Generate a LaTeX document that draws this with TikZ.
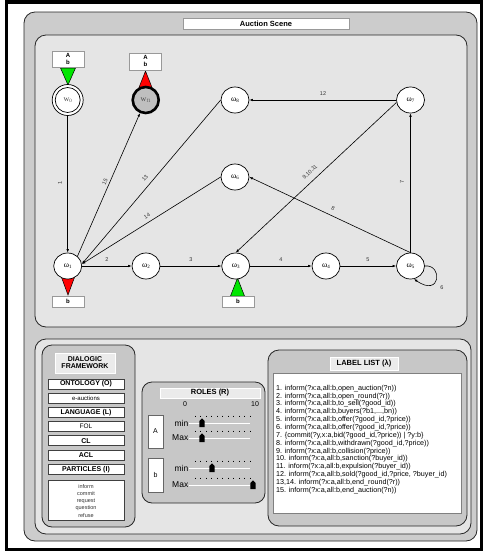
\documentclass[tikz,border=0pt]{standalone}
\usepackage{fontspec}
\setmainfont{Liberation Sans}
\newfontfamily\greekserif{Liberation Serif}
\usetikzlibrary{shapes.geometric,arrows.meta}
\newcommand\fsz[1]{\fontsize{#1}{#1}\selectfont}
\newcommand\stname[2]{#1\raisebox{-1.6pt}{\fsz{5}#2}}

\definecolor{panelgray}{gray}{0.80}
\definecolor{areagray}{gray}{0.90}
\definecolor{boxgray}{gray}{0.78}
\definecolor{titlegray}{gray}{0.92}
\definecolor{sigred}{RGB}{255,0,0}
\definecolor{siggreen}{RGB}{0,230,0}

\begin{document}
\begin{tikzpicture}[x=1pt,y=-1pt,
  panel/.style={draw=black!85, line width=0.8pt, rounded corners=11pt},
  state/.style={ellipse, draw, line width=0.7pt, fill=white, minimum width=28pt,
    minimum height=26pt, inner sep=0pt, font=\greekserif\fsz{8}},
  trans/.style={-{Latex[length=3.5pt,width=2.6pt]}, line width=0.6pt},
  elabel/.style={font=\fsz{5.5}, text=black!80, inner sep=0pt},
  tagbox/.style={draw=black!40, fill=white, line width=0.6pt},
  tagtext/.style={font=\bfseries\fsz{6}, inner sep=0pt},
  itembox/.style={draw=black!75, fill=white, line width=0.6pt, minimum width=76pt,
    minimum height=10pt, inner sep=0pt},
  titlebox/.style={fill=titlegray, draw=white, line width=0.6pt},
  signal/.style={draw=black, line width=0.5pt},
]
\useasboundingbox (0,0) rectangle (483,552);

% frame and panels
\draw[line width=3.5pt] (6.5,1.75) rectangle (481.25,549.5);
\filldraw[panel, fill=panelgray] (24,12) rectangle (477,541);
\filldraw[titlebox, draw=black!40, fill=white] (183,18) rectangle (349,29);
\node[font=\bfseries\fsz{7.5}, inner sep=0pt] (scenetitle) at (266,23.5) {Auction Scene};
\filldraw[panel, fill=areagray] (35,35) rectangle (467,327);
\filldraw[panel, fill=areagray] (35,339) rectangle (471,534);

% ---------- scene graph ----------
% role tags and signals
\filldraw[signal, fill=siggreen] (60.5,68) -- (75.5,68) -- (68,85) -- cycle;
\filldraw[tagbox] (52,51) rectangle (84,67);
\node[tagtext] (t0a) at (68,55.5) {A};
\node[tagtext] (t0b) at (68,62.5) {b};

\filldraw[signal, fill=sigred] (138,90) -- (153,90) -- (145.5,71) -- cycle;
\filldraw[tagbox] (129,53) rectangle (161,70);
\node[tagtext] (tfa) at (145.5,57.5) {A};
\node[tagtext] (tfb) at (145.5,64.5) {b};

\filldraw[signal, fill=sigred] (61,276) -- (75,276) -- (68,295) -- cycle;
\filldraw[tagbox] (52,296) rectangle (84,307);
\node[tagtext] (t1b) at (68,301.5) {b};

\filldraw[signal, fill=siggreen] (237.5,278) -- (244.5,296) -- (230.5,296) -- cycle;
\filldraw[tagbox] (222,296) rectangle (254,307);
\node[tagtext] (t3b) at (238,301.5) {b};

% states
\node[circle, draw, line width=0.7pt, fill=white, minimum size=31pt, inner sep=0pt] (w0) at (67.7,100) {};
\node[circle, draw, line width=0.7pt, minimum size=25pt, inner sep=0pt,
  font=\greekserif\fsz{8}, text=black!70] (w0in) at (67.7,100) {\stname{w}{0}};
\node[circle, draw, line width=2.6pt, fill=black!25, minimum size=26pt, inner sep=0pt,
  font=\greekserif\fsz{8}, text=black!70] (wf1) at (145.7,100) {\stname{w}{f1}};

\node[state] (w1) at (67.7,266) {\stname{ω}{1}};
\node[state] (w2) at (146,266) {\stname{ω}{2}};
\node[state] (w3) at (235.7,266) {\stname{ω}{3}};
\node[state] (w4) at (326,266) {\stname{ω}{4}};
\node[state] (w5) at (410.5,266) {\stname{ω}{5}};
\node[state] (w6) at (235,177) {\stname{ω}{6}};
\node[state] (w7) at (410.5,100) {\stname{ω}{7}};
\node[state] (w8) at (235,100) {\stname{ω}{8}};
\coordinate (hub) at (w1.8);

% transitions
\draw[trans] (w0.south) -- (w1.north);
\draw[trans] (w1.east) -- (w2.west);
\draw[trans] (w2) -- (w3);
\draw[trans] (w3) -- (w4);
\draw[trans] (w4) -- (w5);
\draw[trans] (w5.east) .. controls (443,264) and (441,298) .. (w5.-75);
\draw[trans] (w5.north) -- (w7.south);
\draw[trans] (w5.north) -- (w6.east);
\draw[trans] (w7.190) -- (w3.north);
\draw[trans] (w7.west) -- (w8.east);
\draw[trans] (w8.west) -- (hub);
\draw[trans] (w6.west) -- (hub);
\draw[trans] (w1.45) -- (wf1);

% transition labels
\node[elabel, rotate=90] (l1) at (60,183) {1};
\node[elabel] (l2) at (107,260) {2};
\node[elabel] (l3) at (191,260) {3};
\node[elabel] (l4) at (281,260) {4};
\node[elabel] (l5) at (368,260) {5};
\node[elabel] (l6) at (442,288) {6};
\node[elabel, rotate=90] (l7) at (402,182) {7};
\node[elabel, rotate=-25] (l8) at (333,208) {8};
\node[elabel, rotate=43] (l9) at (310,172) {9,10,11};
\node[elabel] (l12) at (323,94) {12};
\node[elabel, rotate=49] (l13) at (145,178) {13};
\node[elabel, rotate=32] (l14) at (147,216) {14};
\node[elabel, rotate=65] (l15) at (105,182) {15};

% ---------- dialogic framework ----------
\filldraw[panel, fill=boxgray, rounded corners=10pt] (42,345) rectangle (135,527);
\filldraw[titlebox] (55,353) rectangle (115,373);
\node[font=\bfseries\fsz{7}, align=center, inner sep=0pt] (dftitle) at (85,362.5)
  {DIALOGIC\\[-0.5pt]FRAMEWORK};
\node[itembox, font=\bfseries\fsz{7}] (onto) at (86,384) {ONTOLOGY (O)};
\node[itembox, font=\fsz{6}] (eauc) at (86,398.3) {e-auctions};
\node[itembox, font=\bfseries\fsz{7}] (lang) at (86,412.7) {LANGUAGE (L)};
\node[itembox, font=\fsz{6.5}] (fol) at (86,426.7) {FOL};
\node[itembox, font=\bfseries\fsz{7}] (cl) at (86,440.7) {CL};
\node[itembox, font=\bfseries\fsz{7}] (acl) at (86,455) {ACL};
\node[itembox, font=\bfseries\fsz{7}] (part) at (86,469.7) {PARTICLES (I)};
\filldraw[draw=black!75, fill=white, line width=0.6pt] (48,480) rectangle (124,520);
\node[font=\fsz{5.5}, text=black!80, align=center, inner sep=0pt] (plist) at (86,500.8)
  {inform\\[1.7pt]commit\\[1.7pt]request\\[1.7pt]question\\[1.7pt]refuse};

% ---------- roles ----------
\filldraw[panel, fill=boxgray, rounded corners=10pt] (142,382) rectangle (265,503);
\filldraw[titlebox] (160,388) rectangle (260,398);
\node[font=\bfseries\fsz{7.5}, inner sep=0pt] (rtitle) at (210,393) {ROLES (R)};
\node[font=\fsz{7}, inner sep=0pt] (rzero) at (185,404.5) {0};
\node[font=\fsz{7}, inner sep=0pt] (rten) at (255,404.5) {10};
\filldraw[fill=white, draw=black!60, line width=0.5pt] (148,415) rectangle (163,448);
\node[font=\fsz{7}, inner sep=0pt] (ra) at (155.5,431.5) {A};
\filldraw[fill=white, draw=black!60, line width=0.5pt] (148,458) rectangle (163,492);
\node[font=\fsz{7}, inner sep=0pt] (rb) at (155.5,475) {b};
\foreach \yy/\kx/\lab in {423/202/min, 438/202/Max, 468/212/min, 485/253/Max}{
  \node[font=\fsz{8.5}, inner sep=0pt, anchor=east] at (188.5,\yy) {\lab};
  \foreach \k in {0,...,10}
    \draw[line width=0.7pt] (195+5.5*\k,\yy-7.5) -- (195+5.5*\k,\yy-5.8);
  \draw[black!75, line width=0.5pt] (189,\yy) -- (250,\yy);
  \draw[white, line width=0.5pt] (189,\yy+0.7) -- (250,\yy+0.7);
  \fill (\kx-2.6,\yy+4) -- (\kx-2.6,\yy-2) -- (\kx,\yy-4.6) -- (\kx+2.6,\yy-2)
    -- (\kx+2.6,\yy+4) -- cycle;
}

% ---------- label list ----------
\filldraw[panel, fill=boxgray, rounded corners=11pt] (268,350) rectangle (467,526);
\filldraw[titlebox] (330,357) rectangle (398,370);
\node[font=\bfseries\fsz{7.5}, inner sep=0pt] (ltitle) at (364,363.5) {LABEL LIST (λ)};
\filldraw[fill=white, draw=black!50, line width=0.5pt] (273,373) rectangle (461,513);
\node[anchor=north west, align=left, inner sep=0pt, font=\fontsize{7.2}{7.85}\selectfont]
  (labels) at (276,384.8) {%
1. inform(?x:a,all:b,open\_auction(?n))\\
2. inform(?x:a,all:b,open\_round(?r))\\
3. inform(?x:a,all:b,to\_sell(?good\_id))\\
4. inform(?x:a,all:b,buyers(?b1,...,bn))\\
5. inform(?x:a,all:b,offer(?good\_id,?price))\\
6. inform(?x:a,all:b,offer(?good\_id,?price))\\
7. \{commit(?y,x:a,bid(?good\_id,?price)) | ?y:b\}\\
8. inform(?x:a,all:b,withdrawn(?good\_id,?price))\\
9. inform(?x:a,all:b,collision(?price))\\
10. inform(?x:a,all:b,sanction(?buyer\_id))\\
11. inform(?x:a,all:b,expulsion(?buyer\_id))\\
12. inform(?x:a,all:b,sold(?good\_id,?price, ?buyer\_id)\\
13,14. inform(?x:a,all:b,end\_round(?r))\\
15. inform(?x:a,all:b,end\_auction(?n))};
\end{tikzpicture}
\end{document}
